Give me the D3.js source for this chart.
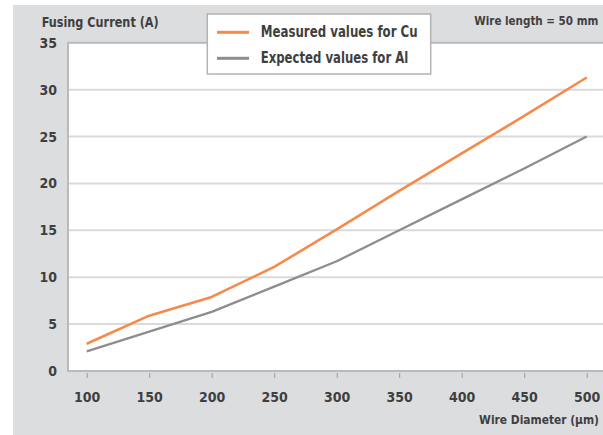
<!DOCTYPE html>
<html>
<head>
<meta charset="utf-8">
<script src="https://cdn.jsdelivr.net/npm/d3@7"></script>
<style>
  html, body { margin: 0; padding: 0; background: #ffffff; }
  svg { display: block; }
  text { font-family: "Liberation Sans Narrow", "DejaVu Sans Condensed", "Roboto Condensed", "Liberation Sans", sans-serif; font-weight: bold; font-stretch: condensed; fill: #3f3f3f; }
</style>
</head>
<body>
<svg id="chart" width="603" height="435"></svg>
<script>
// ---- data ----
const diameters = [100, 150, 200, 250, 300, 350, 400, 450, 500];
const cuMeasured = [2.9, 5.9, 7.9, 11.1, 15.1, 19.2, 23.2, 27.2, 31.3];
const alExpected = [2.1, 4.2, 6.3, 9.0, 11.7, 15.0, 18.3, 21.6, 25.0];
const yTicks = [0, 5, 10, 15, 20, 25, 30, 35];
const xTicks = [100, 150, 200, 250, 300, 350, 400, 450, 500];
const seriesNames = ["Measured values for Cu", "Expected values for Al"];
const seriesColors = ["#f58a4a", "#8d8d8d"];

const svg = d3.select("#chart");
const W = 603, H = 435;

// geometry
const plotLeft = 68, plotTop = 42.8, plotBottom = 371;
const x = d3.scaleLinear().domain([100, 500]).range([86.7, 586.7]);
const y = d3.scaleLinear().domain([0, 35]).range([371, 42.8]);

// fit a text's natural width to a target by adjusting font size
function fitText(sel, target, base) {
  const n = sel.node();
  const w = n.getComputedTextLength();
  if (w > 0) sel.attr("font-size", Math.min(base, base * target / w).toFixed(2));
  return sel;
}

// grey background panel
svg.append("rect").attr("x", 0).attr("y", 0).attr("width", W).attr("height", H).attr("fill", "#ffffff");
svg.append("rect").attr("x", 13).attr("y", 5).attr("width", W - 13).attr("height", H - 5).attr("fill", "#dcdddf");

// plot area
svg.append("rect")
  .attr("x", plotLeft).attr("y", plotTop)
  .attr("width", W - plotLeft + 5).attr("height", plotBottom - plotTop)
  .attr("fill", "#ffffff").attr("stroke", "#b9babc").attr("stroke-width", 2);

// gridlines
svg.append("g").selectAll("line")
  .data(yTicks.filter(d => d > 0 && d < 35))
  .join("line")
  .attr("x1", plotLeft + 1).attr("x2", W)
  .attr("y1", d => y(d)).attr("y2", d => y(d))
  .attr("stroke", "#dadada").attr("stroke-width", 2);

// y axis labels
svg.append("g").selectAll("text")
  .data(yTicks)
  .join("text")
  .attr("x", 57).attr("y", d => y(d))
  .attr("text-anchor", "end").attr("dominant-baseline", "central")
  .attr("font-size", 14)
  .text(d => d);

// x axis ticks and labels
const xAxis = d3.axisBottom(x).tickValues(xTicks).tickSize(5).tickPadding(14);
const gx = svg.append("g").attr("transform", `translate(0, ${plotBottom + 2})`).call(xAxis);
gx.select(".domain").remove();
gx.selectAll(".tick line").attr("stroke", "#9a9a9a").attr("stroke-width", 1);
gx.selectAll(".tick text")
  .attr("font-size", 14).attr("fill", "#3f3f3f")
  .style("font-family", null);
gx.attr("font-family", null);

// lines
const lineGen = d3.line().x((d, i) => x(diameters[i])).y(d => y(d));
[cuMeasured, alExpected].forEach((vals, k) => {
  svg.append("path")
    .datum(vals)
    .attr("d", lineGen)
    .attr("fill", "none")
    .attr("stroke", seriesColors[k])
    .attr("stroke-width", k === 0 ? 2.6 : 2.3)
    .attr("stroke-linejoin", "round");
});

// titles
svg.append("text").attr("x", 41.7).attr("y", 21.7)
  .attr("dominant-baseline", "central").attr("font-size", 14)
  .attr("textLength", 117).attr("lengthAdjust", "spacingAndGlyphs")
  .text("Fusing Current (A)");

fitText(svg.append("text").attr("x", 474.3).attr("y", 20.7)
  .attr("dominant-baseline", "central").attr("font-size", 14)
  .text("Wire length = 50 mm"), 124, 14);

fitText(svg.append("text").attr("x", 599).attr("y", 420)
  .attr("text-anchor", "end").attr("dominant-baseline", "central").attr("font-size", 14)
  .text("Wire Diameter (µm)"), 120, 14);

// legend
const lg = svg.append("g");
lg.append("rect").attr("x", 207.3).attr("y", 14).attr("width", 223.4).attr("height", 60)
  .attr("fill", "#ffffff").attr("stroke", "#b3b3b3").attr("stroke-width", 1.5);
const legendRows = [32.3, 58.3];
const legendWidths = [157, 147.6];
seriesNames.forEach((name, k) => {
  lg.append("line").attr("x1", 217).attr("x2", 249)
    .attr("y1", legendRows[k]).attr("y2", legendRows[k])
    .attr("stroke", seriesColors[k]).attr("stroke-width", 3);
  lg.append("text").attr("x", 260.7).attr("y", legendRows[k])
    .attr("dominant-baseline", "central").attr("font-size", 15)
    .attr("textLength", legendWidths[k]).attr("lengthAdjust", "spacingAndGlyphs")
    .text(name);
});
</script>
</body>
</html>
